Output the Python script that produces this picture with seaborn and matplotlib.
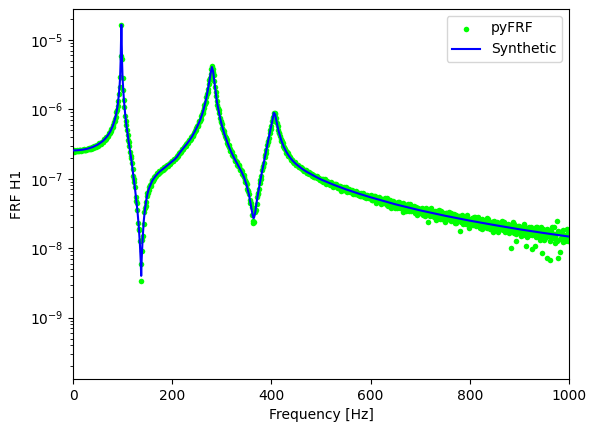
import numpy as np
import matplotlib
matplotlib.use("Agg")
import matplotlib.pyplot as plt
import seaborn as sns

# ---------------- data (values in units of 1e-9) ----------------
SCALE = 1e-9

# Synthetic FRF curve (frequency [Hz], magnitude)
syn_freq = [0, 10, 20, 30, 40, 50, 60, 65, 70, 75, 80, 82.5, 85, 87.5, 90, 92.5, 94, 95, 96, 97,
            97.5, 98, 99, 100, 102.5, 105, 107.5, 110, 112.5, 115, 117.5, 120, 122.5, 125, 127.5,
            130, 132.5, 135, 136.5, 137.5, 138.5, 140, 142.5, 145, 147.5, 150, 152.5, 155, 160,
            165, 170, 175, 180, 185, 190, 195, 200, 205, 210, 215, 220, 225, 230, 235, 240, 245,
            250, 255, 260, 262.5, 265, 267.5, 270, 272.5, 275, 277.5, 280, 282.5, 285, 287.5, 290,
            292.5, 295, 297.5, 300, 305, 310, 315, 320, 325, 330, 335, 340, 345, 350, 355, 360,
            362.5, 364, 365, 367.5, 370, 375, 380, 385, 390, 395, 400, 402.5, 405, 407.5, 410,
            412.5, 415, 420, 425, 430, 435, 440, 445, 450, 460, 470, 480, 490, 500, 525, 550, 575,
            600, 650, 700, 750, 800, 850, 900, 950, 1000]
syn_val = [255, 257, 262, 271, 286, 310, 348, 378, 418, 477, 571, 640, 740, 888, 1137, 1630, 2200, 2900, 4900, 11300,
           16500, 11000, 4640, 2730, 1400, 880, 600, 440, 330, 250, 190, 138, 100, 72, 50,
           34, 21, 11, 6.5, 4, 7, 12, 24, 36, 48, 60, 70, 78, 94,
           106, 117, 127, 136, 145, 155, 166, 178, 190, 208, 235, 262, 290, 320, 358, 405, 470,
           555, 665, 830, 950, 1110, 1320, 1600, 2000, 2550, 3300, 4050, 3500, 2500, 1800, 1300,
           1050, 850, 700, 590, 445, 352, 283, 234, 198, 170, 146, 125, 104, 81, 58, 37,
           29, 27, 27.5, 33, 45, 74, 115, 175, 265, 400, 590, 720, 890, 840, 680,
           560, 470, 355, 288, 244, 214, 192, 175, 162, 142, 127, 116, 106, 97.5, 82, 70.4, 61.3,
           54, 42.8, 35.0, 29.3, 24.9, 21.5, 18.7, 16.5, 14.7]

# Measured (pyFRF) FRF, grid A: 0, 2.5, 5, ... 1000 Hz
grid_a_step = 2.5
pyfrf_a_0_95 = [250, 258, 252, 259, 253, 261, 255, 263, 258, 267,
                262, 271, 266, 278, 273, 286, 280, 295, 292, 307,
                304, 322, 320, 342, 341, 368, 371, 402, 410, 451,
                468, 525, 560, 652, 725, 905, 1110, 1670, 2950]
pyfrf_a_97_200 = [16300, 2800, 1380, 810, 590, 420, 335, 245, 196, 140,
                  98, 75, 48, 36, 19, 12.5, 3.4, 13, 22, 38,
                  46, 62, 68, 80, 84, 96, 99, 108, 110, 119,
                  121, 129, 131, 138, 140, 147, 150, 157, 160, 168,
                  172, 180]
pyfrf_a_202_300 = [181, 194, 196, 213, 217, 240, 244, 268, 271, 296,
                   300, 327, 332, 366, 373, 414, 428, 481, 500, 568,
                   594, 680, 720, 850, 930, 1135, 1290, 1640, 1960, 2610,
                   3240, 4150, 3430, 2560, 1760, 1330, 1025, 870, 685, 605]
pyfrf_a_302_450 = [499, 456, 386, 361, 308, 290, 251, 240, 210, 203,
                   179, 175, 154, 150, 133, 129, 112, 107, 90, 84,
                   67, 60, 44, 39, 25, 24, 35, 43, 61, 71,
                   97, 111, 148, 169, 223, 257, 336, 388, 500, 575,
                   740, 870, 860, 665, 575, 458, 415, 346, 326, 281,
                   271, 238, 234, 209, 207, 187, 188, 170, 172, 158]
pyfrf_a_452_500 = [159, 148, 148, 147, 137, 129, 134, 127, 122, 126,
                   115, 117, 117, 105, 109, 105, 108, 103, 96, 97]
pyfrf_a_502_600 = [99.6, 90.9, 100, 85.1, 91.6, 87.5, 82.5, 89.1, 84.2, 75.4,
                   83.6, 84.7, 76.3, 74.1, 77.5, 66.7, 77.0, 73.0, 70.4, 75.3,
                   65.2, 70.6, 66.2, 67.3, 69.3, 59.9, 62.0, 65.5, 63.1, 58.2,
                   61.7, 57.1, 59.6, 61.5, 56.6, 52.8, 58.1, 55.4, 53.1, 58.1]
pyfrf_a_602_700 = [49.1, 54.1, 55.9, 44.1, 51.3, 48.7, 54.6, 51.6, 44.3, 47.3,
                   50.5, 44.4, 52.3, 41.1, 47.2, 44.4, 41.1, 47.3, 44.0, 37.3,
                   44.8, 46.4, 39.8, 38.5, 42.0, 33.2, 42.8, 39.8, 38.2, 43.0,
                   34.6, 39.7, 36.3, 37.8, 40.0, 32.0, 34.3, 38.0, 36.1, 32.2]
pyfrf_a_702_800 = [36.8, 29.9, 34.8, 37.2, 31.8, 23.9, 34.2, 37.2, 29.7, 32.0,
                   28.3, 34.3, 32.1, 29.0, 35.9, 26.1, 30.4, 29.0, 32.0, 23.7,
                   32.6, 28.2, 30.0, 25.6, 32.3, 25.9, 28.3, 23.0, 29.6, 28.1,
                   25.7, 17.8, 29.2, 23.8, 26.7, 27.5, 22.4, 29.9, 24.8, 23.4]
pyfrf_a_802_1000 = [26.7, 22.1, 28.1, 23.5, 20.6, 25.0, 28.4, 21.9, 23.5, 19.0,
                    25.5, 21.9, 23.4, 19.8, 26.1, 22.2, 20.0, 23.9, 17.1, 22.8,
                    20.3, 24.0, 18.4, 21.3, 19.1, 24.5, 20.1, 17.1, 21.6, 18.9,
                    22.3, 17.6, 10.2, 20.3, 18.6, 22.4, 16.2, 19.2, 17.2, 20.6,
                    14.9, 19.4, 17.1, 22.1, 10.9, 17.8, 19.3, 15.5, 20.2, 9.7,
                    16.6, 17.9, 14.4, 20.2, 15.3, 17.9, 13.1, 8.4, 18.6, 16.0,
                    14.1, 7.3, 17.7, 14.8, 6.7, 19.9, 13.9, 16.0, 11.9, 24.8,
                    7.3, 16.5, 13.6, 17.5, 12.2, 15.6, 14.0, 18.9, 12.6, 16.2]

# Measured (pyFRF) FRF, grid B: 1.25, 3.75, ... 998.75 Hz
grid_b_start = 1.25
pyfrf_b_1_94 = [246, 251, 249, 254, 250, 255, 253, 257, 256, 262,
                260, 266, 265, 271, 270, 280, 278, 290, 288, 302,
                300, 318, 316, 337, 343, 362, 371, 399, 414, 452,
                480, 533, 585, 676, 785, 985, 1310, 2120]
pyfrf_b_96_199 = [5900, 5200, 1900, 1080, 670, 510, 360, 295, 210, 168,
                  110, 90, 55, 45, 23, 18, 6, 9, 15, 33,
                  40, 56, 62, 76, 79, 92, 94, 105, 106, 116,
                  117, 127, 126, 136, 135, 145, 144, 154, 153, 165,
                  165, 177]
pyfrf_b_201_299 = [178, 190, 190, 207, 210, 232, 237, 260, 264, 289,
                   292, 318, 323, 355, 362, 400, 412, 462, 482, 543,
                   570, 648, 688, 796, 872, 1050, 1190, 1480, 1760, 2300,
                   2850, 3820, 3820, 3060, 2080, 1560, 1150, 965, 755, 650]
pyfrf_b_301_449 = [545, 488, 410, 380, 325, 305, 264, 250, 219, 210,
                   186, 180, 160, 156, 137, 134, 116, 112, 95, 90,
                   72, 66, 49, 45, 30, 23, 33, 36, 54, 63,
                   86, 100, 133, 152, 202, 232, 305, 348, 455, 520,
                   670, 780, 890, 740, 640, 500, 450, 368, 347, 294,
                   284, 247, 243, 215, 213, 192, 183, 175, 166, 160]
pyfrf_b_451_499 = [155, 158, 146, 141, 143, 132, 130, 133, 121, 124,
                   115, 119, 111, 113, 105, 109, 101, 104, 98, 95]
pyfrf_b_501_599 = [93.5, 97.8, 95.1, 88.2, 87.0, 90.9, 84.5, 86.9, 82.4, 79.1,
                   83.9, 80.6, 76.2, 74.0, 78.9, 76.8, 72.1, 69.4, 74.8, 70.9,
                   66.5, 68.9, 70.1, 63.5, 64.2, 67.6, 62.0, 60.3, 64.9, 61.8,
                   58.2, 57.0, 61.8, 60.2, 55.1, 54.6, 58.0, 56.9, 52.9, 55.7]
pyfrf_b_601_699 = [56.4, 49.4, 52.0, 57.0, 46.1, 51.6, 48.0, 53.0, 43.0, 48.8,
                   45.4, 52.9, 45.3, 42.0, 47.4, 48.7, 38.3, 43.1, 46.1, 40.4,
                   42.6, 37.6, 45.5, 40.1, 42.1, 37.3, 44.5, 37.7, 34.2, 40.8,
                   38.1, 43.1, 33.9, 35.8, 38.5, 34.0, 39.1, 30.5, 35.9, 34.1]
pyfrf_b_701_799 = [32.1, 37.4, 34.6, 28.9, 37.7, 32.1, 34.4, 29.2, 37.4, 31.6,
                   29.7, 33.5, 25.4, 34.2, 30.8, 28.7, 34.2, 26.1, 30.6, 28.6,
                   31.8, 26.1, 28.4, 33.1, 24.9, 29.4, 26.4, 30.6, 22.7, 27.6,
                   25.8, 28.6, 24.1, 29.9, 22.4, 25.8, 27.6, 23.6, 26.2, 19.8]
pyfrf_b_801_999 = [23.3, 27.1, 21.3, 25.0, 28.0, 21.7, 23.5, 25.3, 19.4, 26.0,
                   22.2, 24.0, 20.2, 26.9, 20.8, 22.5, 19.0, 23.7, 21.1, 24.6,
                   19.3, 22.2, 16.9, 23.3, 19.8, 21.1, 18.1, 23.5, 18.7, 21.4,
                   19.8, 16.7, 21.5, 18.4, 23.5, 16.8, 19.8, 12.6, 21.2, 17.1,
                   18.3, 19.8, 15.7, 21.5, 16.9, 18.1, 14.7, 20.2, 17.0, 18.5,
                   15.6, 19.2, 10.8, 20.3, 15.7, 17.6, 14.5, 20.4, 15.8, 13.2,
                   17.8, 14.7, 18.7, 15.7, 12.5, 17.7, 13.9, 20.5, 14.7, 16.0,
                   12.9, 17.4, 8.8, 16.0, 13.6, 18.4, 12.8, 14.8, 13.8, 16.5]

pyfrf_a = np.array(pyfrf_a_0_95 + pyfrf_a_97_200 + pyfrf_a_202_300 + pyfrf_a_302_450 +
                   pyfrf_a_452_500 + pyfrf_a_502_600 + pyfrf_a_602_700 + pyfrf_a_702_800 +
                   pyfrf_a_802_1000, dtype=float) * SCALE
pyfrf_b = np.array(pyfrf_b_1_94 + pyfrf_b_96_199 + pyfrf_b_201_299 + pyfrf_b_301_449 +
                   pyfrf_b_451_499 + pyfrf_b_501_599 + pyfrf_b_601_699 + pyfrf_b_701_799 +
                   pyfrf_b_801_999, dtype=float) * SCALE
freq_a = np.arange(len(pyfrf_a)) * grid_a_step
freq_b = grid_b_start + np.arange(len(pyfrf_b)) * grid_a_step
order = np.argsort(np.concatenate([freq_a, freq_b]))
pyfrf_freq = np.concatenate([freq_a, freq_b])[order]
pyfrf_val = np.concatenate([pyfrf_a, pyfrf_b])[order]

syn_f = np.array(syn_freq, dtype=float)
syn_v = np.array(syn_val, dtype=float) * SCALE

# ---------------- plot ----------------
fig = plt.figure(figsize=(5.96, 4.32), dpi=100)
ax = fig.add_axes([73 / 596, (432 - 379) / 432, 496 / 596, 370 / 432])

sns.scatterplot(x=pyfrf_freq, y=pyfrf_val, color="lime", s=16, linewidth=0,
                label="pyFRF", ax=ax, zorder=2)
sns.lineplot(x=syn_f, y=syn_v, color="blue", linewidth=1.5, label="Synthetic",
             estimator=None, sort=False, ax=ax, zorder=3)

ax.set_yscale("log")
ax.set_xlim(0, 1000)
ax.set_ylim(1.31e-10, 2.77e-5)
ax.set_xlabel("Frequency [Hz]")
ax.set_ylabel("FRF H1")
ax.legend(loc="upper right")

fig.savefig("out.png", dpi=100)
